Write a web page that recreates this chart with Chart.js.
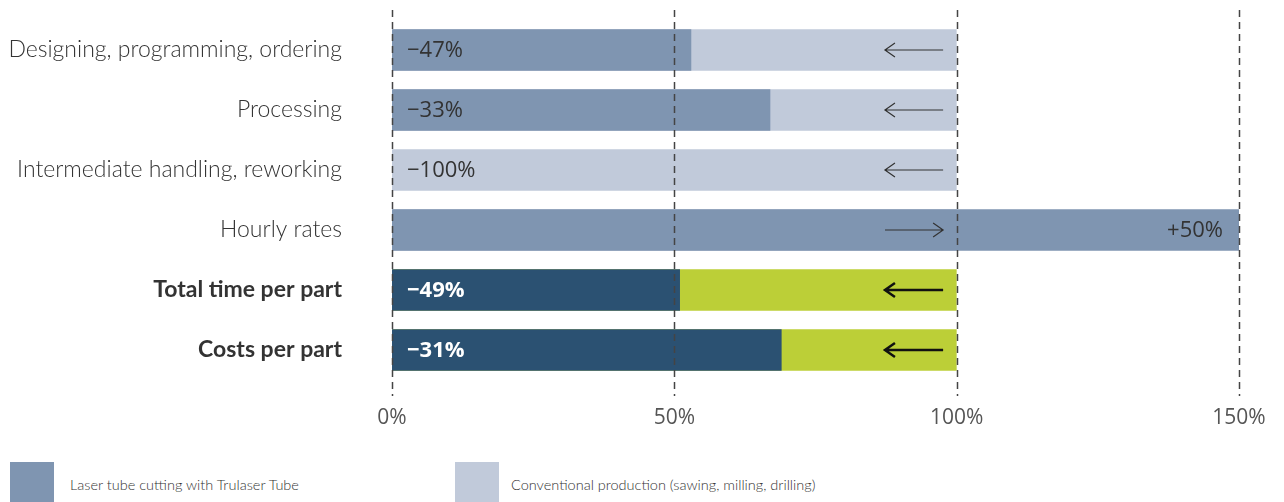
<!DOCTYPE html>
<html>
<head>
<meta charset="utf-8">
<script src="https://cdn.jsdelivr.net/npm/chart.js@4/dist/chart.umd.min.js"></script>
<style>
  html, body { margin: 0; padding: 0; background: #fff; }
  #wrap { position: relative; width: 1284px; height: 502px; overflow: hidden; }
  #savingsChart { position: absolute; left: 0; top: 0; }
  .lg { position: absolute; top: 462px; font-family: Lato, "Noto Sans", sans-serif; font-weight: 300; font-size: 14.5px; color: #333; }
  .lg span.box { position: absolute; left: 0; top: 0; width: 44px; height: 40px; }
  .lg span.txt { position: absolute; top: 14px; white-space: nowrap; }
</style>
</head>
<body>
<div id="wrap">
  <canvas id="savingsChart" width="1284" height="440"></canvas>
  <div class="lg" style="left:10px"><span class="box" style="background:#7f95b1"></span><span class="txt" style="left:60px">Laser tube cutting with Trulaser Tube</span></div>
  <div class="lg" style="left:455px"><span class="box" style="background:#c1cada"></span><span class="txt" style="left:56px">Conventional production (sawing, milling, drilling)</span></div>
</div>
<script>
const categories = ['Designing, programming, ordering', 'Processing', 'Intermediate handling, reworking', 'Hourly rates', 'Total time per part', 'Costs per part'];
const laserValues = [53, 67, 0, 150, 51, 69];
const conventionalValues = [100, 100, 100, 100, 100, 100];
const changeLabels = ['\u221247%', '\u221233%', '\u2212100%', '+50%', '\u221249%', '\u221231%'];
const arrowDirs = [-1, -1, -1, 1, -1, -1];
const highlighted = [false, false, false, false, true, true];
const xTicks = [0, 50, 100, 150];

const laserColors = highlighted.map(h => h ? '#2b5172' : '#7f95b1');
const convColors = highlighted.map(h => h ? '#bccf37' : '#c1cada');

const overlayPlugin = {
    id: 'overlay',
    afterDatasetsDraw(chart) {
        const ctx = chart.ctx;
        const x = chart.scales.x;
        const y = chart.scales.y;
        const area = chart.chartArea;

        // dashed guide lines on top of bars
        ctx.save();
        ctx.strokeStyle = '#444';
        ctx.lineWidth = 1.5;
        ctx.setLineDash([7, 5]);
        xTicks.forEach(v => {
            const px = Math.round(x.getPixelForValue(v)) + 0.5;
            ctx.beginPath();
            ctx.moveTo(px, area.top - 10);
            ctx.lineTo(px, area.bottom + 16);
            ctx.stroke();
        });
        ctx.restore();

        categories.forEach((c, i) => {
            const cy = y.getPixelForValue(i);
            // change label
            ctx.save();
            ctx.font = (highlighted[i] ? 'bold ' : '') + '22px "Open Sans", sans-serif';
            ctx.fillStyle = highlighted[i] ? '#ffffff' : '#333';
            ctx.textBaseline = 'middle';
            if (arrowDirs[i] > 0) {
                ctx.textAlign = 'right';
                ctx.fillText(changeLabels[i], x.getPixelForValue(laserValues[i]) - 16, cy + 1);
            } else {
                ctx.textAlign = 'left';
                ctx.fillText(changeLabels[i], x.getPixelForValue(0) + 15, cy + 1);
            }
            ctx.restore();

            // arrow
            const a = x.getPixelForValue(87.3);
            const b = x.getPixelForValue(97.6);
            const tip = arrowDirs[i] < 0 ? a : b;
            const tail = arrowDirs[i] < 0 ? b : a;
            const d = arrowDirs[i] < 0 ? 1 : -1;
            ctx.save();
            ctx.strokeStyle = highlighted[i] ? '#111' : '#333';
            ctx.lineWidth = highlighted[i] ? 2.5 : 1.2;
            ctx.beginPath();
            ctx.moveTo(tail, cy);
            ctx.lineTo(tip, cy);
            ctx.moveTo(tip + d * 10, cy - 7);
            ctx.lineTo(tip, cy);
            ctx.lineTo(tip + d * 10, cy + 7);
            ctx.stroke();
            ctx.restore();
        });
    }
};

new Chart(document.getElementById('savingsChart'), {
    type: 'bar',
    data: {
        labels: categories,
        datasets: [{
            label: 'Laser tube cutting with Trulaser Tube',
            data: laserValues,
            backgroundColor: laserColors,
            grouped: false,
            order: 0,
            barPercentage: 0.69,
            categoryPercentage: 1
        }, {
            label: 'Conventional production (sawing, milling, drilling)',
            data: conventionalValues,
            backgroundColor: convColors,
            grouped: false,
            order: 1,
            barPercentage: 0.69,
            categoryPercentage: 1
        }]
    },
    options: {
        indexAxis: 'y',
        responsive: false,
        animation: false,
        layout: {
            padding: { top: 20, right: 45, bottom: 0, left: 0 }
        },
        plugins: {
            legend: { display: false },
            tooltip: { enabled: false }
        },
        scales: {
            x: {
                min: 0,
                max: 150,
                afterBuildTicks: function(scale) {
                    scale.ticks = xTicks.map(v => ({ value: v }));
                },
                afterFit: function(scale) {
                    scale.height = 60;
                    scale.paddingLeft = 0;
                    scale.paddingRight = 0;
                },
                ticks: {
                    padding: 17,
                    color: '#555',
                    font: { family: '"Open Sans", sans-serif', size: 21 },
                    callback: function(value) {
                        return value + '%';
                    }
                },
                grid: { display: false },
                border: { display: false }
            },
            y: {
                afterFit: function(scale) {
                    scale.width = 392;
                    scale.paddingTop = 0;
                    scale.paddingBottom = 0;
                },
                ticks: {
                    padding: 42,
                    color: '#333',
                    font: function(context) {
                        return {
                            family: 'Lato, "Noto Sans", sans-serif',
                            size: 23,
                            weight: highlighted[context.index] ? 'bold' : '300'
                        };
                    }
                },
                grid: { display: false },
                border: { display: false }
            }
        }
    },
    plugins: [overlayPlugin]
});
</script>
</body>
</html>
